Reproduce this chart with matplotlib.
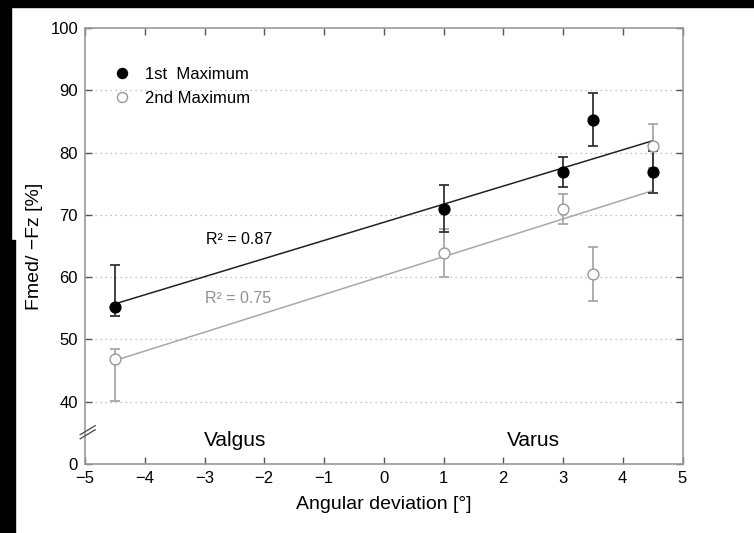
import matplotlib
matplotlib.use("Agg")
import matplotlib.pyplot as plt
from matplotlib.lines import Line2D
from matplotlib.patches import Rectangle
import numpy as np

plt.rcParams['font.family'] = ['Liberation Sans', 'DejaVu Sans']

# ---- data ----
x_dev = [-4.5, 1.0, 3.0, 3.5, 4.5]
first_max = [55.2, 71.0, 76.9, 85.3, 76.9]
first_err_lo = [1.5, 3.8, 2.4, 4.3, 3.4]
first_err_hi = [6.8, 3.8, 2.4, 4.3, 3.4]
second_max = [46.9, 63.9, 71.0, 60.5, 81.1]
second_err_lo = [6.8, 3.8, 2.4, 4.4, 3.5]
second_err_hi = [1.6, 3.8, 2.4, 4.3, 3.5]
fit_first = (2.91, 68.8)   # slope, intercept
fit_second = (3.03, 60.25)
fit_range = [-4.5, 4.5]
r2_first = "R\u00b2 = 0.87"
r2_second = "R\u00b2 = 0.75"
series_names = ["1st  Maximum", "2nd Maximum"]
xticks = [-5, -4, -3, -2, -1, 0, 1, 2, 3, 4, 5]
yticks_pos = [30, 40, 50, 60, 70, 80, 90, 100]
ytick_labels = ["0", "40", "50", "60", "70", "80", "90", "100"]

W, H = 754, 533
fig = plt.figure(figsize=(W / 100, H / 100), dpi=100, facecolor='white')
ax = fig.add_axes([85 / W, 1 - 464 / H, (682.5 - 85) / W, (464 - 28) / H])

# black borders of the scan
def px_rect(x0, y0, x1, y1):
    fig.patches.append(Rectangle((x0 / W, 1 - y1 / H), (x1 - x0) / W, (y1 - y0) / H,
                                 transform=fig.transFigure, color='black', zorder=10))
px_rect(0, 0, W, 7)
px_rect(0, 0, 11, 240)
px_rect(0, 240, 15, H)

dark = '#222222'
light = '#a8a8a8'

# grid
for yv in [40, 50, 60, 70, 80, 90]:
    ax.axhline(yv, color='#b0b0b0', lw=0.9, ls=(0, (1, 3)), zorder=0)

# fit lines
xf = np.array(fit_range)
ax.plot(xf, fit_second[0] * xf + fit_second[1], color=light, lw=1.1, zorder=1)
ax.plot(xf, fit_first[0] * xf + fit_first[1], color=dark, lw=1.1, zorder=1)

# error bars
ax.errorbar(x_dev, second_max, yerr=[second_err_lo, second_err_hi], fmt='none',
            ecolor=light, elinewidth=1.3, capsize=3.7, capthick=1.3, zorder=2)
ax.errorbar(x_dev, first_max, yerr=[first_err_lo, first_err_hi], fmt='none',
            ecolor='#333333', elinewidth=1.3, capsize=3.7, capthick=1.3, zorder=3)
ax.plot(x_dev, first_max, 'o', ms=7.8, mfc='black', mec='black', ls='none', zorder=4)
ax.plot(x_dev, second_max, 'o', ms=7.8, mfc='white', mec='#999999', mew=1.0, ls='none', zorder=5)

# R^2 texts
ax.text(-2.97, 66.0, r2_first, color='black', fontsize=11.5, va='center', ha='left')
ax.text(-2.99, 56.5, r2_second, color='#909090', fontsize=11.5, va='center', ha='left')

# region labels
ax.text(-2.49, 33.85, "Valgus", fontsize=15, ha='center', va='center')
ax.text(2.51, 33.85, "Varus", fontsize=15, ha='center', va='center')

# legend
handles = [Line2D([], [], marker='o', ls='none', ms=7.2, mfc='black', mec='black'),
           Line2D([], [], marker='o', ls='none', ms=7.2, mfc='white', mec='#999999')]
ax.legend(handles, series_names, loc='upper left', frameon=False, fontsize=12,
          bbox_to_anchor=(0.0223, 0.9252), handlelength=2.0, handletextpad=0.4,
          labelspacing=0.52, borderpad=0.4, borderaxespad=0.0)

ax.set_xlim(-5, 5)
ax.set_ylim(30, 100)
ax.set_xticks(xticks)
ax.set_xticklabels([f"{t}".replace('-', '\u2212') for t in xticks])
ax.set_yticks(yticks_pos)
ax.set_yticklabels(ytick_labels)
ax.tick_params(direction='in', length=5, width=1, color='#555555', top=True, right=True,
               labelsize=12, pad=5)
for s in ax.spines.values():
    s.set_color('#999999')
    s.set_linewidth(1.2)

# axis break marks
for dy in (-0.33, 0.33):
    ax.plot([-5.08, -4.83], [35.1 + dy - 0.72, 35.1 + dy + 0.72], color='#555555', lw=1.0,
            clip_on=False, zorder=6)

ax.set_xlabel("Angular deviation [\u00b0]", fontsize=14, labelpad=7)
ax.set_ylabel("Fmed/ \u2212Fz [%]", fontsize=14, labelpad=5)

fig.savefig("out.png", dpi=100, facecolor='white')
